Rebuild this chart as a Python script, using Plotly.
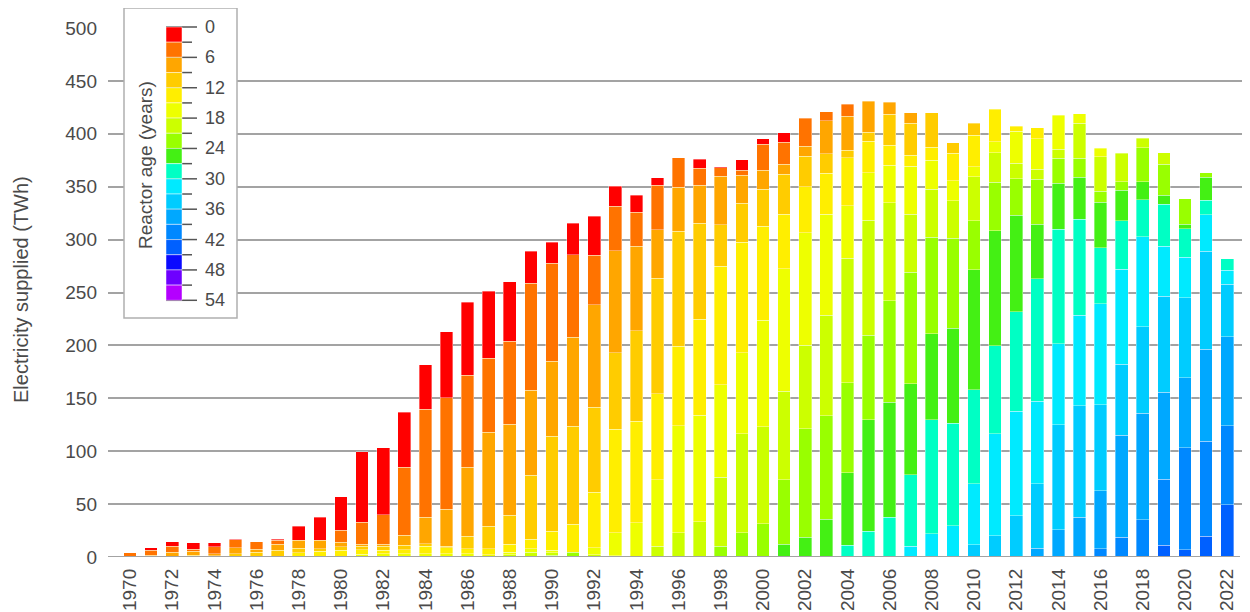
import plotly.graph_objects as go

years = list(range(1970, 2023))

age_bins = ["0-3", "3-6", "6-9", "9-12", "12-15", "15-18", "18-21", "21-24", "24-27",
            "27-30", "30-33", "33-36", "36-39", "39-42", "42-45", "45-48", "48-51", "51-54"]

bin_colors = ["#FF0000", "#FF7300", "#FFA600", "#FFCC00", "#FFEE00", "#EEFF00",
              "#CCFF00", "#99FF00", "#44F014", "#00FFC4", "#00EAFF", "#00CCFF",
              "#00A8FF", "#0088FF", "#0060FF", "#0A0AFF", "#6E00FF", "#B400FF"]

legend_ticks = [0, 6, 12, 18, 24, 30, 36, 42, 48, 54]
x_ticks = list(range(1970, 2023, 2))
y_ticks = list(range(0, 501, 50))

# Electricity supplied (TWh) by reactor age bin, years 1970..2022
age_00_03 = [0, 2.5, 4.1, 6.3, 3.8, 0.5, 0, 0.9, 13.2, 21.7,
             31.8, 66.8, 63.0, 51.7, 42.2, 62.4, 69.0, 63.3, 56.4, 30.6,
             19.8, 29.6, 36.9, 18.9, 16.1, 6.9, 0, 8.5, 1.3, 10.1,
             5.4, 9.1, 0, 0, 0, 0, 0, 0, 0, 0,
             0, 0, 0, 0, 0, 0, 0, 0, 0, 0,
             0, 0, 0]
age_03_06 = [4.0, 4.7, 5.7, 1.9, 6.6, 7.6, 7.2, 3.8, 0, 0,
             11.3, 20.8, 28.0, 64.3, 101.8, 105.2, 87.0, 70.0, 78.4, 101.1,
             92.6, 78.4, 46.9, 41.9, 32.1, 42.2, 27.7, 16.4, 7.9, 4.7,
             24.6, 20.8, 26.5, 8.8, 11.3, 0, 0, 0, 0, 0,
             0, 0, 0, 0, 0, 0, 0, 0, 0, 0,
             0, 0, 0]
age_06_09 = [0, 1.6, 4.4, 3.8, 1.9, 5.4, 2.8, 5.7, 7.2, 7.9,
             4.4, 1.9, 1.9, 9.5, 25.2, 35.0, 65.2, 88.8, 86.0, 80.3,
             70.9, 83.8, 97.0, 96.4, 79.7, 46.0, 41.9, 35.6, 45.7, 26.5,
             18.0, 9.5, 9.5, 31.2, 32.1, 29.6, 11.3, 10.1, 0, 0,
             0, 0, 0, 0, 0, 0, 0, 0, 0, 0,
             0, 0, 0]
age_09_12 = [0, 0, 0, 1.6, 1.3, 3.2, 4.4, 6.3, 4.7, 2.5,
             3.2, 3.2, 3.8, 4.1, 2.5, 1.3, 11.7, 21.1, 27.4, 60.5,
             89.8, 92.9, 80.3, 72.5, 85.7, 109.0, 108.7, 91.0, 39.4, 36.9,
             35.0, 37.8, 29.0, 18.3, 7.2, 8.5, 29.3, 30.2, 32.5, 10.1,
             11.3, 0, 0, 0, 0, 0, 0, 0, 0, 0,
             0, 0, 0]
age_12_15 = [0, 0, 0, 0, 0, 0, 0, 0, 3.8, 5.4,
             6.3, 4.4, 3.2, 3.8, 6.9, 5.7, 4.7, 5.7, 7.2, 8.8,
             18.0, 26.1, 52.3, 97.7, 95.8, 81.3, 75.0, 90.7, 111.8, 104.3,
             88.8, 51.4, 43.2, 38.8, 45.1, 29.6, 18.6, 10.1, 12.3, 25.8,
             29.6, 30.9, 4.7, 10.4, 0, 0, 0, 0, 0, 0,
             0, 0, 0]
age_15_18 = [0, 0, 0, 0, 0, 0, 0, 0, 0, 0,
             0, 2.5, 3.2, 3.2, 3.2, 3.2, 3.2, 2.2, 2.5, 3.2,
             2.5, 0, 6.6, 22.0, 31.8, 63.0, 101.4, 100.5, 87.3, 76.6,
             100.8, 115.9, 106.5, 95.5, 49.5, 44.7, 35.9, 45.7, 27.4, 19.2,
             9.8, 10.4, 30.2, 28.7, 32.1, 9.1, 8.2, 0, 0, 0,
             0, 0, 0]
age_18_21 = [0, 0, 0, 0, 0, 0, 0, 0, 0, 0,
             0, 0, 0, 0, 0, 0, 0, 0, 2.2, 4.7,
             2.0, 0, 2.2, 1.0, 0.6, 10.0, 22.7, 33.4, 65.2, 93.9,
             91.4, 83.5, 78.8, 95.1, 118.1, 108.7, 92.6, 54.5, 45.4, 35.3,
             41.6, 27.7, 15.1, 9.5, 8.8, 32.8, 32.5, 27.1, 9.1, 10.7,
             0, 0, 0]
age_21_24 = [0, 0, 0, 0, 0, 0, 0, 0, 0, 0,
             0, 0, 0, 0, 0, 0, 0, 0, 0, 0,
             1.8, 4.7, 0, 0, 0, 0, 0, 0, 10.4, 22.7,
             31.5, 61.1, 102.4, 97.7, 85.1, 80.3, 95.8, 105.5, 91.4, 84.8,
             46.0, 45.7, 34.3, 42.8, 23.3, 18.0, 10.4, 7.9, 32.1, 29.3,
             23.9, 4.1, 0]
age_24_27 = [0, 0, 0, 0, 0, 0, 0, 0, 0, 0,
             0, 0, 0, 0, 0, 0, 0, 0, 0, 0,
             0, 0, 0, 0, 0, 0, 0, 0, 0, 0,
             0, 12.0, 18.9, 35.6, 68.4, 105.2, 108.7, 86.0, 81.0, 89.8,
             113.4, 108.7, 91.4, 51.4, 43.8, 39.7, 42.8, 29.0, 16.7, 8.8,
             4.4, 22.1, 0]
age_27_30 = [0, 0, 0, 0, 0, 0, 0, 0, 0, 0,
             0, 0, 0, 0, 0, 0, 0, 0, 0, 0,
             0, 0, 0, 0, 0, 0, 0, 0, 0, 0,
             0, 0, 0, 0, 11.0, 24.3, 37.5, 67.7, 107.8, 97.0,
             88.8, 83.2, 93.9, 115.9, 108.1, 91.0, 53.2, 45.4, 35.3, 39.7,
             26.8, 13.5, 11.0]
age_30_33 = [0, 0, 0, 0, 0, 0, 0, 0, 0, 0,
             0, 0, 0, 0, 0, 0, 0, 0, 0, 0,
             0, 0, 0, 0, 0, 0, 0, 0, 0, 0,
             0, 0, 0, 0, 0, 0, 0, 10.1, 22.0, 29.6,
             57.7, 96.4, 98.9, 77.8, 76.6, 85.4, 95.5, 90.1, 85.1, 46.9,
             38.4, 34.3, 13.2]
age_33_36 = [0, 0, 0, 0, 0, 0, 0, 0, 0, 0,
             0, 0, 0, 0, 0, 0, 0, 0, 0, 0,
             0, 0, 0, 0, 0, 0, 0, 0, 0, 0,
             0, 0, 0, 0, 0, 0, 0, 0, 0, 0,
             11.7, 20.2, 38.8, 60.8, 99.2, 105.2, 81.3, 67.1, 81.3, 90.7,
             75.6, 92.6, 49.8]
age_36_39 = [0, 0, 0, 0, 0, 0, 0, 0, 0, 0,
             0, 0, 0, 0, 0, 0, 0, 0, 0, 0,
             0, 0, 0, 0, 0, 0, 0, 0, 0, 0,
             0, 0, 0, 0, 0, 0, 0, 0, 0, 0,
             0, 0, 0, 8.5, 25.8, 37.8, 54.5, 96.1, 100.8, 82.5,
             66.2, 87.3, 84.1]
age_39_42 = [0, 0, 0, 0, 0, 0, 0, 0, 0, 0,
             0, 0, 0, 0, 0, 0, 0, 0, 0, 0,
             0, 0, 0, 0, 0, 0, 0, 0, 0, 0,
             0, 0, 0, 0, 0, 0, 0, 0, 0, 0,
             0, 0, 0, 0, 0, 0, 7.9, 18.9, 35.3, 62.1,
             96.4, 89.5, 74.4]
age_42_45 = [0, 0, 0, 0, 0, 0, 0, 0, 0, 0,
             0, 0, 0, 0, 0, 0, 0, 0, 0, 0,
             0, 0, 0, 0, 0, 0, 0, 0, 0, 0,
             0, 0, 0, 0, 0, 0, 0, 0, 0, 0,
             0, 0, 0, 0, 0, 0, 0, 0, 0, 11.3,
             6.9, 19.8, 49.5]
age_45_48 = [0] * 53
age_48_51 = [0] * 53
age_51_54 = [0] * 53

series = [age_00_03, age_03_06, age_06_09, age_09_12, age_12_15, age_15_18,
          age_18_21, age_21_24, age_24_27, age_27_30, age_30_33, age_33_36,
          age_36_39, age_39_42, age_42_45, age_45_48, age_48_51, age_51_54]

# ---- layout geometry (page pixels; page body has an 8px margin) ----
OFF = 8
W, H = 1250 - OFF, 612 - OFF
L, R, T, B = 108, 1250, 28, 557          # plot area in page pixels
PW, PH = R - L, B - T


def xp(px):
    return (px - L) / PW


def yp(py):
    return (B - py) / PH


FONT = "Liberation Sans, Arial, sans-serif"
TXT = "#4a4a4a"

fig = go.Figure()

# oldest at the bottom, youngest on top
for i in range(len(series) - 1, -1, -1):
    vals = [v if v else None for v in series[i]]
    fig.add_trace(go.Bar(
        x=years, y=vals, name=age_bins[i], width=0.6,
        marker=dict(color=bin_colors[i],
                    line=dict(color="rgba(255,255,255,0.45)", width=0.8)),
        showlegend=False,
    ))

shapes = []
annotations = []

# baseline
shapes.append(dict(type="line", xref="paper", yref="y", x0=0, x1=xp(1240), y0=0, y1=0,
                   line=dict(color="#a3a3a3", width=2), layer="above"))

# legend box
shapes.append(dict(type="rect", xref="paper", yref="paper",
                   x0=xp(124), x1=xp(237), y0=yp(318), y1=yp(8),
                   fillcolor="white", line=dict(color="#b0b0b0", width=1.5), layer="above"))

top_px, bot_px = 27.0, 300.3
step = (bot_px - top_px) / 18.0
# ticks
for k in range(19):
    age = 3 * k
    py = top_px + k * step
    major = (age % 6 == 0)
    shapes.append(dict(type="line", xref="paper", yref="paper",
                       x0=xp(166 if major else 182), x1=xp(197 if major else 192),
                       y0=yp(py), y1=yp(py),
                       line=dict(color="#555555", width=1.5), layer="above"))
# colour blocks
for k in range(18):
    y0 = top_px + k * step
    shapes.append(dict(type="rect", xref="paper", yref="paper",
                       x0=xp(166), x1=xp(182), y0=yp(y0 + step), y1=yp(y0),
                       fillcolor=bin_colors[k],
                       line=dict(color="rgba(255,255,255,0.6)", width=0.8), layer="above"))

for age in legend_ticks:
    py = top_px + (age / 3) * step
    annotations.append(dict(xref="paper", yref="paper", x=xp(203), y=yp(py),
                            text=str(age), showarrow=False, xanchor="left", yanchor="middle",
                            font=dict(family=FONT, size=18, color=TXT)))

annotations.append(dict(xref="paper", yref="paper", x=xp(145), y=yp(165),
                        text="Reactor age (years)", textangle=-90, showarrow=False,
                        xanchor="center", yanchor="middle",
                        font=dict(family=FONT, size=19, color=TXT)))

annotations.append(dict(xref="paper", yref="paper", x=xp(21), y=yp(290),
                        text="Electricity supplied (TWh)", textangle=-90, showarrow=False,
                        xanchor="center", yanchor="middle",
                        font=dict(family=FONT, size=20, color=TXT)))

x_left = 1970 - (130 - L) / 21.1
x_right = 1970 + (R - 130) / 21.1

fig.update_layout(
    width=W, height=H,
    margin=dict(l=L - OFF, r=1250 - R, t=T - OFF, b=612 - B, autoexpand=False),
    paper_bgcolor="white", plot_bgcolor="white",
    barmode="stack",
    shapes=shapes, annotations=annotations,
    font=dict(family=FONT, color=TXT),
    xaxis=dict(range=[x_left, x_right], tickmode="array", tickvals=x_ticks,
               ticktext=[str(v) for v in x_ticks], tickangle=-90,
               showgrid=False, zeroline=False, showline=False, ticks="",
               tickfont=dict(family=FONT, size=19, color=TXT), ticklabelstandoff=7),
    yaxis=dict(range=[0, 500], tickmode="array", tickvals=y_ticks,
               showgrid=True, gridcolor="#a3a3a3", gridwidth=1.5,
               zeroline=False, showline=False, ticks="",
               tickfont=dict(family=FONT, size=19, color=TXT), ticklabelstandoff=10),
)

fig.write_html("out.html")
